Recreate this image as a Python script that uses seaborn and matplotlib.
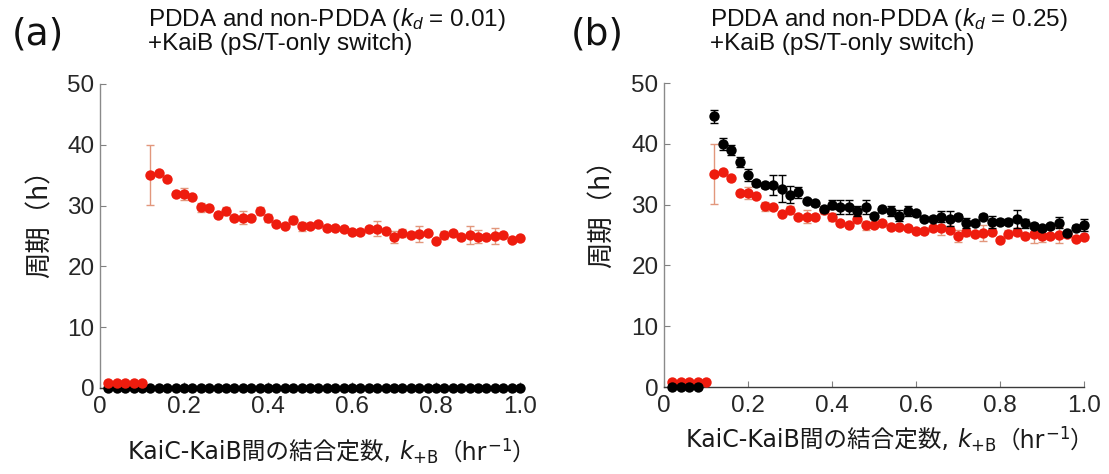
import numpy as np
import pandas as pd
import matplotlib
matplotlib.use("Agg")
import matplotlib.pyplot as plt
import seaborn as sns
from matplotlib.offsetbox import TextArea, HPacker, AnnotationBbox

sns.set_theme(style="white")
plt.rcParams["font.family"] = ["Liberation Sans", "DejaVu Sans"]
plt.rcParams["mathtext.fontset"] = "custom"
plt.rcParams["mathtext.rm"] = "Liberation Sans"
plt.rcParams["mathtext.it"] = "Liberation Sans:italic"
plt.rcParams["mathtext.bf"] = "Liberation Sans:bold"

# KaiC-KaiB binding constant grid (hr^-1)
k_low = [0.02, 0.04, 0.06, 0.08, 0.10]
k_high = np.round(np.arange(0.12, 1.0001, 0.02), 2)
k_all = np.round(np.arange(0.02, 1.0001, 0.02), 2)

# non-PDDA (red) periods, identical in both panels
red_low = [0.8, 0.8, 0.8, 0.8, 0.8]
red_high = [35.0, 35.3, 34.3, 31.9, 31.9, 31.4, 29.7, 29.6, 28.5, 29.1,
            28.0, 28.0, 27.9, 29.1, 28.0, 26.9, 26.7, 27.6, 26.6, 26.7,
            27.0, 26.3, 26.3, 26.2, 25.7, 25.6, 26.1, 26.2, 25.8, 24.9,
            25.5, 25.2, 25.3, 25.5, 24.2, 25.2, 25.5, 24.9, 25.2, 24.9,
            24.8, 25.0, 25.2, 24.3, 24.6]
red_err = [4.9, 0.3, 0.3, 0.3, 0.95, 0.3, 0.8, 0.3, 0.3, 0.7,
           0.3, 1.1, 0.3, 0.7, 0.7, 0.3, 0.3, 0.7, 0.7, 0.3,
           0.3, 0.3, 0.3, 0.3, 0.3, 0.3, 0.3, 1.2, 0.3, 1.0,
           0.7, 0.3, 1.3, 0.3, 0.3, 0.7, 0.3, 0.3, 1.5, 1.1,
           0.3, 1.3, 0.3, 0.3, 0.3]

# PDDA (black) periods
black_kd001 = [0.0] * len(k_all)
black_low_kd025 = [0.0, 0.0, 0.0, 0.0]
black_high_kd025 = [44.5, 40.0, 39.0, 37.0, 34.9, 33.5, 33.2, 33.2, 32.6, 31.6,
                    32.0, 30.6, 30.2, 29.2, 30.0, 29.6, 29.6, 29.0, 29.6, 28.2,
                    29.2, 29.0, 28.2, 29.0, 28.6, 27.7, 27.7, 28.0, 27.7, 28.0,
                    27.0, 27.0, 28.0, 27.2, 27.2, 27.2, 27.6, 26.9, 26.5, 26.1,
                    26.4, 27.0, 25.3, 26.2, 26.6]
black_err_kd025 = [1.1, 0.95, 0.8, 0.8, 1.0, 0.4, 0.4, 1.6, 2.2, 1.4,
                   0.9, 0.4, 0.4, 0.4, 0.8, 1.1, 1.1, 0.8, 1.1, 0.4,
                   0.4, 0.8, 0.95, 0.8, 0.4, 0.4, 0.4, 0.9, 1.3, 0.4,
                   0.8, 0.4, 0.4, 1.0, 0.4, 0.4, 1.45, 0.8, 0.4, 0.4,
                   0.4, 0.9, 0.4, 0.4, 1.0]

x_ticks = [0, 0.2, 0.4, 0.6, 0.8, 1.0]
x_ticklabels = ["0", "0.2", "0.4", "0.6", "0.8", "1.0"]
y_ticks = [0, 10, 20, 30, 40, 50]

titles = ["PDDA and non-PDDA ($k_d$ = 0.01)\n+KaiB (pS/T-only switch)",
          "PDDA and non-PDDA ($k_d$ = 0.25)\n+KaiB (pS/T-only switch)"]
panel_tags = ["(a)", "(b)"]

RED = "#ee1c0e"
RED_BAR = "#e2977c"
BLACK = "#000000"
MS = 56

W, H = 1109, 474
fig = plt.figure(figsize=(W / 100, H / 100), dpi=100)
ax_a = fig.add_axes([100 / W, 1 - 388 / H, 420 / W, 304 / H])
ax_b = fig.add_axes([664 / W, 1 - 387 / H, 420 / W, 304 / H])


def dots(ax, x, y, color, z):
    df = pd.DataFrame({"k": x, "period": y})
    sns.scatterplot(data=df, x="k", y="period", color=color, s=MS,
                    linewidth=0, ax=ax, clip_on=False, zorder=z, legend=False)


def bars(ax, x, y, err, color, z):
    ax.errorbar(x, y, yerr=err, fmt="none", ecolor=color, elinewidth=1.0,
                capsize=3, capthick=1.0, zorder=z, clip_on=False)


# panel (a): k_d = 0.01
dots(ax_a, k_all, black_kd001, BLACK, 3)
bars(ax_a, k_high, red_high, red_err, RED_BAR, 4)
dots(ax_a, k_low, red_low, RED, 5)
dots(ax_a, k_high, red_high, RED, 5)

# panel (b): k_d = 0.25
bars(ax_b, k_high, red_high, red_err, RED_BAR, 2)
dots(ax_b, k_low, red_low, RED, 3)
dots(ax_b, k_high, red_high, RED, 3)
dots(ax_b, k_low[:4], black_low_kd025, BLACK, 4)
bars(ax_b, k_high, black_high_kd025, black_err_kd025, BLACK, 5)
dots(ax_b, k_high, black_high_kd025, BLACK, 6)

for ax in (ax_a, ax_b):
    ax.set_xlim(0, 1.0)
    ax.set_ylim(0, 50)
    ax.set_xticks(x_ticks)
    ax.set_xticklabels(x_ticklabels)
    ax.set_yticks(y_ticks)
    ax.set_xlabel("")
    ax.set_ylabel("")
    ax.tick_params(axis="both", which="both", direction="in", length=4,
                   width=0.8, color="#808080", labelsize=17.5,
                   labelcolor="#262626", left=True, bottom=True)
    ax.tick_params(axis="x", pad=6)
    ax.tick_params(axis="y", pad=4)
    for side in ("top", "right"):
        ax.spines[side].set_visible(False)
    ax.spines["left"].set_color("#8a8a8a")
    ax.spines["bottom"].set_color("#3a3a3a")
    ax.spines["left"].set_linewidth(1.0)
    ax.spines["bottom"].set_linewidth(1.0)

# y labels
ax_a.text(40 / W, 1 - 217 / H, "周期（h）", transform=fig.transFigure,
          rotation=90, ha="center", va="center", fontsize=19,
          family=["Noto Sans CJK JP"], color="#1a1a1a")
ax_b.text(602 / W, 1 - 207 / H, "周期（h）", transform=fig.transFigure,
          rotation=90, ha="center", va="center", fontsize=19,
          family=["Noto Sans CJK JP"], color="#1a1a1a")

# titles and panel tags
for tag, title, tx, ttx in zip(panel_tags, titles, [38, 597], [148, 710]):
    fig.text(tx / W, 1 - 35 / H, tag, ha="center", va="center", fontsize=27,
             family=["DejaVu Sans"], color="#111111")
    fig.text(ttx / W, 1 - 6 / H, title, ha="left", va="top", fontsize=17.5,
             linespacing=1.0, color="#111111")


def xlabel_box(cx, cy):
    base = dict(family=["DejaVu Sans", "Noto Sans CJK JP"], size=17,
                color="#1a1a1a")
    mathp = dict(base, math_fontfamily="dejavusans")
    parts = [TextArea("KaiC-KaiB間の結合定数, ", textprops=base),
             TextArea(r"$k_{+\mathrm{B}}$", textprops=mathp),
             TextArea("（hr", textprops=base),
             TextArea(r"$^{-1}$", textprops=mathp),
             TextArea("）", textprops=base)]
    box = HPacker(children=parts, align="baseline", pad=0, sep=0)
    ab = AnnotationBbox(box, (cx / W, 1 - cy / H), xycoords="figure fraction",
                        frameon=False, box_alignment=(0.5, 0.5), pad=0)
    fig.add_artist(ab)


xlabel_box(332, 452)
xlabel_box(890, 440)

fig.savefig("out.png", dpi=100)
